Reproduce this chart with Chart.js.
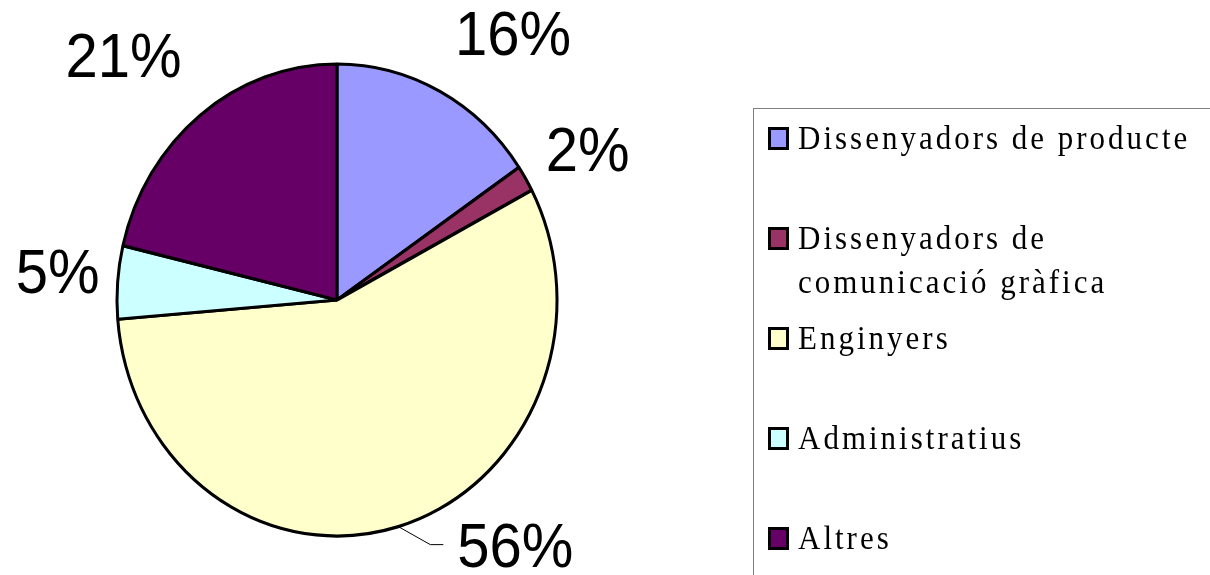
<!DOCTYPE html>
<html>
<head>
<meta charset="utf-8">
<script src="https://cdn.jsdelivr.net/npm/chart.js@4"></script>
<style>
  html, body { margin: 0; padding: 0; background: #fff; }
  #wrap { width: 1210px; height: 575px; position: relative; }
</style>
</head>
<body>
<div id="wrap"><canvas id="c" width="1210" height="575"></canvas></div>
<script>
// ---- data ----
const categories = [
  'Dissenyadors de producte',
  'Dissenyadors de comunicació gràfica',
  'Enginyers',
  'Administratius',
  'Altres'
];
const legendLines = [
  ['Dissenyadors de producte'],
  ['Dissenyadors de', 'comunicació gràfica'],
  ['Enginyers'],
  ['Administratius'],
  ['Altres']
];
const values = [15.5, 1.8, 56.4, 5.0, 21.3];
const colors = ['#9999FF', '#993366', '#FFFFCC', '#CCFFFF', '#660066'];

// ---- styling / placement ----
const STRETCH = 236 / 220;              // vertical stretch of the drawing
const labelOffsets = [[73, -36], [62, -8], [117, 40], [-60, 11], [-77, -38]];
const leaderIndex = 2;

const ellipsePlugin = {
  id: 'ellipse',
  beforeDatasetsDraw(chart) {
    const arc = chart.getDatasetMeta(0).data[0];
    const ctx = chart.ctx;
    ctx.save();
    ctx.translate(arc.x, arc.y);
    ctx.scale(1, STRETCH);
    ctx.translate(-arc.x, -arc.y);
  },
  afterDatasetsDraw(chart) {
    chart.ctx.restore();
  }
};

function stretchedText(ctx, text, x, y) {
  ctx.save();
  ctx.translate(x, y);
  ctx.scale(1, STRETCH);
  ctx.fillText(text, 0, 0);
  ctx.restore();
}

const labelPlugin = {
  id: 'pctLabels',
  afterDatasetsDraw(chart) {
    const ctx = chart.ctx;
    const meta = chart.getDatasetMeta(0);
    const data = chart.data.datasets[0].data;
    const total = data.reduce((a, b) => a + b, 0);
    ctx.save();
    ctx.font = '58px "Liberation Sans", Arial, sans-serif';
    ctx.fillStyle = '#000';
    ctx.textAlign = 'center';
    ctx.textBaseline = 'alphabetic';
    meta.data.forEach((arc, i) => {
      const p = arc.getProps(['x', 'y', 'startAngle', 'endAngle', 'outerRadius'], true);
      const mid = (p.startAngle + p.endAngle) / 2;
      const ex = p.x + p.outerRadius * Math.cos(mid);
      const ey = p.y + p.outerRadius * Math.sin(mid) * STRETCH;
      const lx = ex + labelOffsets[i][0];
      const ly = ey + labelOffsets[i][1];
      const txt = Math.round(data[i] / total * 100) + '%';
      stretchedText(ctx, txt, lx, ly);
      if (i === leaderIndex) {
        const w = ctx.measureText(txt).width;
        const left = lx - w / 2;
        const cy = ly - 22;
        ctx.beginPath();
        ctx.strokeStyle = '#000';
        ctx.lineWidth = 1;
        ctx.moveTo(ex, ey);
        ctx.lineTo(left - 27, cy);
        ctx.lineTo(left - 14, cy);
        ctx.stroke();
      }
    });
    ctx.restore();
  }
};

const legendPlugin = {
  id: 'boxLegend',
  afterDraw(chart) {
    const ctx = chart.ctx;
    const ds = chart.data.datasets[0];
    ctx.save();
    // frame (runs off the right and bottom edges)
    ctx.strokeStyle = '#808080';
    ctx.lineWidth = 1;
    ctx.strokeRect(753.5, 108.5, 600, 600);
    ctx.font = '31px "Liberation Serif", "Times New Roman", serif';
    ctx.letterSpacing = '3px';
    ctx.fillStyle = '#000';
    ctx.textAlign = 'left';
    ctx.textBaseline = 'alphabetic';
    legendLines.forEach((lines, i) => {
      const base = 149 + i * 100;
      // marker
      ctx.fillStyle = '#000';
      ctx.fillRect(768, base - 22, 21, 23);
      ctx.fillStyle = ds.backgroundColor[i];
      ctx.fillRect(771, base - 19, 15, 17);
      ctx.fillStyle = '#000';
      lines.forEach((t, j) => {
        stretchedText(ctx, t, 798, base + j * 44);
      });
    });
    ctx.restore();
  }
};

new Chart(document.getElementById('c'), {
  type: 'pie',
  data: {
    labels: categories,
    datasets: [{
      data: values,
      backgroundColor: colors,
      borderColor: '#000',
      borderWidth: 3,
      hoverOffset: 0
    }]
  },
  options: {
    responsive: false,
    animation: false,
    radius: 220,
    layout: { padding: { left: 0, right: 536, top: 25, bottom: 0 } },
    plugins: {
      legend: { display: false },
      tooltip: { enabled: false }
    },
    events: []
  },
  plugins: [ellipsePlugin, labelPlugin, legendPlugin]
});
</script>
</body>
</html>
